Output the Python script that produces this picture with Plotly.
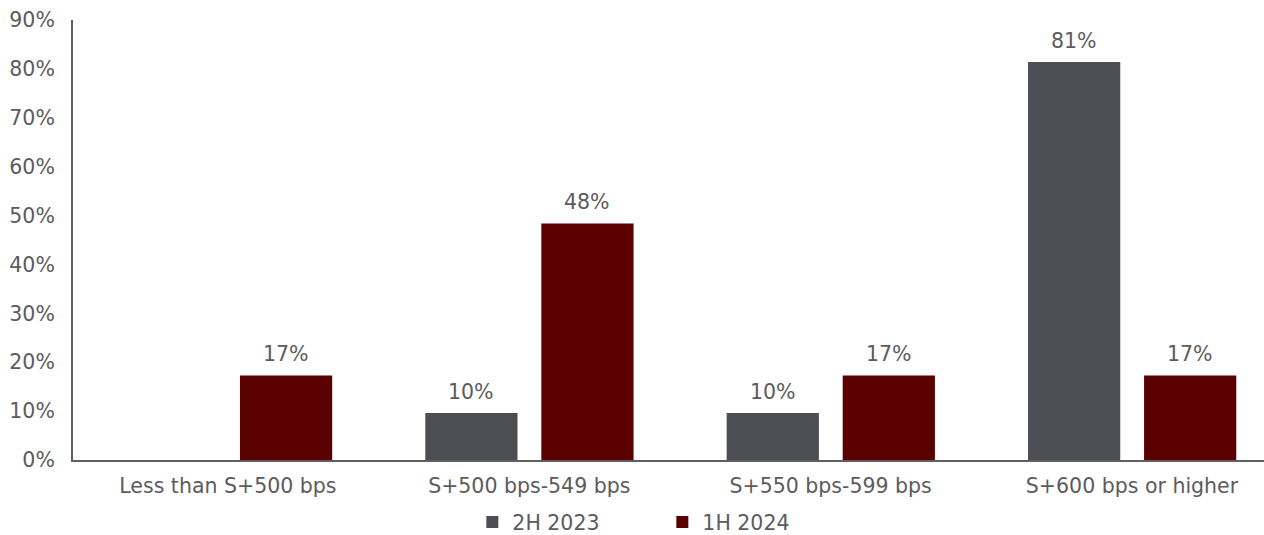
import plotly.graph_objects as go

categories = ["Less than S+500 bps", "S+500 bps-549 bps", "S+550 bps-599 bps", "S+600 bps or higher"]
series_2h2023 = [None, 9.6, 9.6, 81.4]
series_1h2024 = [17.3, 48.4, 17.3, 17.3]
y_ticks = [0, 10, 20, 30, 40, 50, 60, 70, 80, 90]
y_tick_labels = [f"{v}%" for v in y_ticks]

GRAY = "#4d4e53"
RED = "#5a0000"
TEXT = "#5b5b60"
FONT = "DejaVu Sans"
FS = 20.5
BAR_W = 0.306
OFFSETS = {"2H 2023": -0.345, "1H 2024": 0.04}

fig = go.Figure()
annotations = []
for name, vals, color in [("2H 2023", series_2h2023, GRAY), ("1H 2024", series_1h2024, RED)]:
    fig.add_trace(go.Bar(
        x=categories, y=vals, name=name,
        marker=dict(color=color, line=dict(width=0)),
        width=BAR_W, offset=OFFSETS[name],
    ))
    for i, v in enumerate(vals):
        if v is None:
            continue
        annotations.append(dict(
            x=i + OFFSETS[name] + BAR_W / 2, y=v, xref="x", yref="y",
            text=f"{v:.0f}%", showarrow=False, yanchor="bottom", yshift=7,
            font=dict(size=FS, color=TEXT, family=FONT),
        ))

fig.update_layout(
    width=1264, height=535,
    margin=dict(l=73, r=0, t=20, b=75, autoexpand=False),
    paper_bgcolor="white", plot_bgcolor="white",
    barmode="group",
    font=dict(family=FONT, color=TEXT, size=FS),
    annotations=annotations,
    showlegend=True,
    legend=dict(orientation="h", xref="container", x=0.524, xanchor="center",
                yref="container", y=0.024, yanchor="middle",
                font=dict(size=FS, color=TEXT, family=FONT),
                entrywidth=145, entrywidthmode="pixels", itemwidth=30),
    xaxis=dict(range=[-0.514, 3.438], showline=True, linecolor="#5f5f63", linewidth=2,
               ticks="", showgrid=False, zeroline=False, ticklabelstandoff=6,
               tickfont=dict(size=FS, color=TEXT, family=FONT)),
    yaxis=dict(range=[0, 90], tickvals=y_ticks, ticktext=y_tick_labels,
               showline=True, linecolor="#5f5f63", linewidth=2,
               ticks="", showgrid=False, zeroline=False, ticklabelstandoff=12,
               tickfont=dict(size=FS, color=TEXT, family=FONT)),
)

fig.write_html("out.html")
